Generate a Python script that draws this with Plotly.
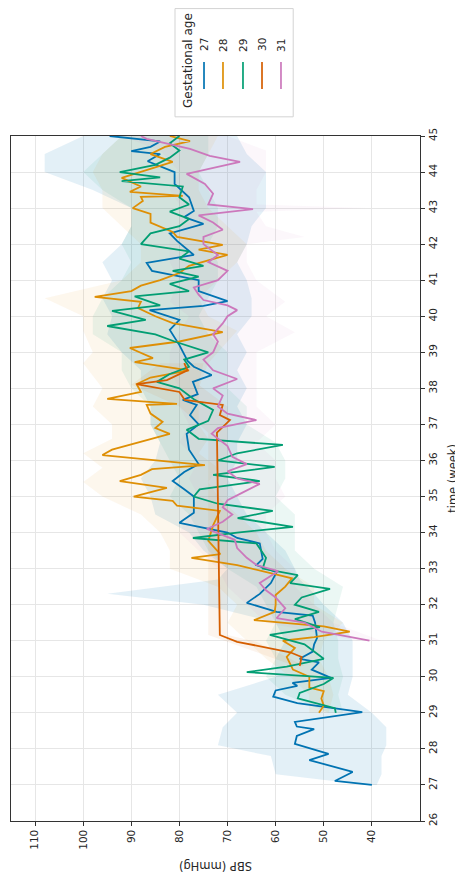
import plotly.graph_objects as go

# ---------------- data ----------------
groups = ["27", "28", "29", "30", "31"]
colors = ["#0173B2", "#DE8F05", "#029E73", "#D55E00", "#CC78BC"]

w27 = [27.0, 27.11, 27.36, 27.69, 27.86, 28.14, 28.36, 28.55, 28.62, 28.75, 29.02, 29.27, 29.45, 29.62, 29.75,
       29.83, 29.97, 30.2, 30.4, 30.5, 30.7, 30.9, 31.07, 31.5, 31.7, 31.8, 32.05, 32.3, 32.6, 32.9,
       33.1, 33.27, 33.7, 33.85, 34.0, 34.27, 34.55, 35.0, 35.2, 35.43, 35.68, 35.9, 36.3, 36.74, 37.0,
       37.26, 37.54, 37.68, 37.84, 38.18, 38.37, 38.6, 38.76, 39.2, 39.62, 39.9, 40.17, 40.29, 40.42, 40.7,
       41.0, 41.26, 41.48, 41.7, 42.09, 42.3, 42.56, 42.75, 42.92, 43.3, 43.67, 44.0, 44.3, 44.5, 44.58,
       44.7, 44.85, 45.0]
sbp27 = [40, 47.7, 44, 53, 49, 56, 55.6, 52, 55.6, 56, 42, 55.5, 60.5, 60, 55.5,
         56.5, 48.5, 52.5, 51, 55, 52.3, 52, 51.4, 51.8, 52.3, 59.8, 66, 63.3, 61, 59.8,
         64, 62.7, 63.3, 68, 70, 80, 77, 77, 79, 81.4, 79, 76, 78, 78.5, 76,
         77.8, 76.4, 79.3, 76.2, 77.2, 73.3, 77, 78.3, 80, 82, 80, 86.2, 75, 70, 76,
         76, 85.7, 86.8, 77, 80.5, 82, 75, 79, 77, 78, 81, 81, 86.6, 84, 90,
         86, 84, 94.5]

w28 = [29.0, 29.2, 29.4, 29.6, 29.7, 30.0, 30.2, 30.55, 30.8, 31.0, 31.1, 31.25, 31.4, 31.57, 31.8,
       32.0, 32.27, 32.5, 32.73, 32.9, 33.1, 33.3, 33.4, 33.77, 34.2, 34.6, 34.75, 34.88, 35.0, 35.24,
       35.43, 35.6, 35.76, 35.87, 36.15, 36.3, 36.74, 36.9, 37.07, 37.3, 37.54, 37.57, 37.71, 37.9, 38.12,
       38.3, 38.5, 38.73, 38.84, 39.12, 39.3, 39.56, 39.81, 40.0, 40.23, 40.4, 40.54, 40.7, 40.85, 41.0,
       41.2, 41.4, 41.55, 41.7, 41.85, 41.98, 42.2, 42.34, 42.6, 42.84, 43.0, 43.2, 43.31, 43.34, 43.45,
       43.6, 43.84, 44.0, 44.28, 44.5, 44.7, 44.86, 45.0]
sbp28 = [51, 50, 50.5, 50, 53, 53, 56.4, 57.7, 56, 58.5, 52, 44.6, 50, 64.5, 60.2,
         60, 60, 58, 56.6, 62, 68, 77.5, 71.5, 74, 73, 71.6, 80.5, 81.4, 89.5, 82.6,
         92.4, 88, 85.7, 74.7, 96, 94, 82, 85, 83.5, 86, 86.8, 80.5, 95, 88, 88.9,
         86, 78, 89.3, 85.5, 90.3, 80, 71, 81.4, 85, 88.6, 88, 97.6, 90, 88, 84,
         80, 78, 74, 70, 76, 71, 80.5, 81.4, 86, 86, 89.7, 87.6, 88, 79.3, 90.3,
         88, 92, 88, 81.4, 86, 83, 77.8, 82]

w29 = [29.0, 29.13, 29.4, 29.55, 29.8, 29.97, 30.13, 30.28, 30.5, 30.7, 30.9, 31.16, 31.38, 31.6, 31.8,
       32.0, 32.2, 32.44, 32.6, 32.82, 33.0, 33.3, 33.7, 33.85, 34.0, 34.16, 34.4, 34.6, 34.8, 35.0,
       35.2, 35.43, 35.6, 35.82, 36.0, 36.2, 36.43, 36.6, 36.85, 37.1, 37.4, 37.7, 38.0, 38.18, 38.4,
       38.6, 38.8, 39.0, 39.3, 39.5, 39.73, 39.9, 40.15, 40.3, 40.55, 40.7, 40.9, 41.1, 41.26, 41.4,
       41.6, 41.8, 42.0, 42.3, 42.5, 42.7, 42.9, 43.1, 43.3, 43.6, 43.75, 43.85, 44.0, 44.2, 44.4,
       44.6, 44.8, 45.0]
sbp29 = [47.5, 47.7, 55.4, 55, 50, 48, 66, 57.7, 50, 52, 54, 61.2, 50.8, 56, 51,
         56, 54.6, 48.7, 57, 55.4, 62.7, 62, 64, 77.2, 68, 56.4, 67.9, 60.6, 72, 77,
         75.8, 63.3, 73, 60.2, 72, 68, 58.5, 76, 78.5, 74, 73, 77, 80, 84.7, 82,
         78, 79, 74, 81, 85, 95, 87, 94, 84, 89.3, 78, 82, 76, 81.4, 75,
         80, 78, 88, 86, 80, 78, 82, 78, 80, 79.3, 92, 84, 92.4, 85, 82,
         80, 82, 80]

w30 = [30.3, 30.55, 30.68, 30.97, 31.16, 36.77, 37.12, 37.26, 37.54, 37.68, 37.9, 38.12, 38.23, 38.5, 38.7]
sbp30 = [55, 54.6, 57, 68, 71.6, 72.2, 69.5, 71.6, 71, 78.9, 80, 88.9, 82.6, 78.3, 79]

w31 = [31.0, 31.25, 31.5, 31.63, 31.9, 32.2, 32.4, 32.6, 32.93, 33.1, 33.3, 33.57, 33.8, 34.1, 34.3,
       34.5, 34.7, 34.9, 35.1, 35.35, 35.5, 35.7, 35.9, 36.1, 36.4, 36.74, 36.9, 37.12, 37.3, 37.5,
       37.8, 38.0, 38.26, 38.5, 38.8, 39.0, 39.3, 39.5, 39.8, 40.0, 40.17, 40.3, 40.45, 40.6, 40.8,
       41.0, 41.26, 41.5, 41.7, 42.0, 42.2, 42.4, 42.6, 42.8, 42.97, 43.1, 43.4, 43.67, 43.95, 44.28,
       44.45, 44.64, 44.92, 45.0]
sbp31 = [40.5, 50.4, 54, 59.8, 58, 60, 62, 63.3, 59.5, 64, 66, 68, 68.5, 74.3, 71,
         69, 71, 70, 67, 63.3, 68, 70, 66, 69, 70, 73.3, 72, 64, 70, 72,
         71, 73, 68, 73, 75, 73, 72, 73, 71, 70, 68, 70, 75, 76, 77,
         72, 70, 74, 72, 75, 75, 71, 73, 76, 64.7, 74, 73, 74.7, 78.5, 67.4,
         73.7, 77.8, 86.8, 88]

# confidence bands (week, lower, upper)
bw27 = [27.0, 27.3, 27.8, 28.1, 28.6, 29.0, 29.5, 30.0, 30.5, 31.0, 31.5, 32.0, 32.3, 32.7, 33.0,
        33.5, 34.0, 34.5, 35.0, 35.5, 36.0, 36.5, 37.0, 37.5, 38.0, 38.5, 39.0, 39.5, 40.0, 40.5,
        41.0, 41.5, 42.0, 42.5, 43.0, 43.5, 44.0, 44.5, 45.0]
blo27 = [39, 38, 38, 37, 37, 40, 45, 44, 44, 44, 46, 50, 52, 55, 56,
         58, 62, 66, 68, 70, 68, 68, 66, 68, 66, 68, 66, 68, 65, 65,
         66, 68, 66, 65, 62, 62, 62, 66, 68]
bhi27 = [41, 60, 61, 72, 71, 68, 72, 60, 60, 58, 60, 75, 95, 72, 70,
         75, 78, 85, 86, 88, 85, 84, 86, 86, 88, 88, 92, 95, 94, 96,
         94, 96, 92, 90, 90, 98, 108, 108, 100]

bw28 = [29.0, 29.5, 30.0, 30.5, 31.0, 31.5, 32.0, 32.5, 33.0, 33.5, 34.0, 34.5, 35.0, 35.4, 35.8,
        36.2, 36.6, 37.0, 37.5, 38.0, 38.7, 39.0, 39.6, 40.0, 40.5, 41.0, 41.5, 42.0, 42.5, 43.0,
        43.5, 44.0, 44.5, 45.0]
blo28 = [49, 48, 49, 51, 50, 46, 52, 52, 58, 62, 64, 68, 72, 74, 72,
         76, 74, 76, 76, 76, 74, 72, 68, 74, 76, 72, 68, 66, 70, 74,
         76, 76, 74, 72]
bhi28 = [53, 53, 57, 62, 66, 70, 68, 72, 82, 82, 84, 88, 96, 100, 96,
         100, 94, 94, 98, 96, 100, 98, 100, 100, 108, 92, 88, 88, 92, 96,
         96, 98, 96, 92]

bw29 = [29.0, 29.5, 30.0, 30.5, 31.0, 31.5, 32.0, 32.5, 33.0, 33.5, 34.0, 34.5, 35.0, 35.5, 36.0,
        36.5, 37.0, 37.5, 38.0, 38.5, 39.0, 39.5, 40.0, 40.5, 41.0, 41.5, 42.0, 42.5, 43.0, 43.5,
        44.0, 44.5, 45.0]
blo29 = [46, 47, 46, 47, 47, 48, 47, 46, 52, 56, 56, 56, 60, 58, 58,
         60, 66, 66, 70, 70, 70, 74, 76, 74, 72, 72, 74, 72, 72, 74,
         76, 74, 74]
bhi29 = [49, 58, 62, 60, 62, 60, 62, 64, 70, 74, 76, 78, 82, 80, 82,
         84, 86, 86, 90, 92, 92, 98, 98, 96, 92, 90, 92, 90, 90, 96,
         100, 96, 92]

bw30 = [30.3, 30.97, 31.16, 36.77, 37.5, 38.1, 38.7]
blo30 = [54, 64, 70, 70, 70, 76, 75]
bhi30 = [56, 70, 74, 74, 80, 90, 84]

bw31 = [31.0, 31.5, 32.0, 32.5, 33.0, 33.5, 34.0, 34.5, 35.0, 35.5, 36.0, 36.5, 37.0, 37.5, 38.0,
        38.5, 39.0, 39.56, 40.0, 40.4, 41.0, 41.5, 42.0, 42.2, 42.5, 42.9, 43.0, 43.1, 43.5, 44.0,
        44.3, 44.6, 45.0]
blo31 = [38, 48, 52, 56, 56, 60, 62, 62, 58, 60, 60, 64, 60, 64, 64,
         64, 64, 56, 62, 58, 64, 66, 66, 54, 62, 64, 41, 64, 64, 62,
         62, 62, 70]
bhi31 = [43, 62, 66, 70, 72, 76, 80, 78, 76, 78, 76, 80, 78, 80, 80,
         82, 82, 80, 78, 82, 80, 82, 82, 82, 80, 80, 80, 80, 82, 80,
         82, 84, 92]

sbp_ticks = [40, 50, 60, 70, 80, 90, 100, 110]
week_ticks = list(range(26, 46))

series = [(w27, sbp27), (w28, sbp28), (w29, sbp29), (w30, sbp30), (w31, sbp31)]
bands = [(bw27, blo27, bhi27), (bw28, blo28, bhi28), (bw29, blo29, bhi29),
         (bw30, blo30, bhi30), (bw31, blo31, bhi31)]
band_alpha = [0.11, 0.07, 0.08, 0.07, 0.06]


def rgba(hexc, a):
    h = hexc.lstrip("#")
    r, g, b = int(h[0:2], 16), int(h[2:4], 16), int(h[4:6], 16)
    return f"rgba({r},{g},{b},{a})"


fig = go.Figure()

# bands first (drawn beneath all lines)
for (bw, lo, hi), col, a in zip(bands, colors, band_alpha):
    fig.add_trace(go.Scatter(
        x=list(hi) + list(lo)[::-1],
        y=list(bw) + list(bw)[::-1],
        fill="toself", fillcolor=rgba(col, a),
        line=dict(width=0), mode="lines", hoverinfo="skip", showlegend=False))

for (w, s), col, name in zip(series, colors, groups):
    fig.add_trace(go.Scatter(
        x=s, y=w, mode="lines", name=name,
        line=dict(color=col, width=1.8), showlegend=False))

TXT = "#262626"
FONT = "DejaVu Sans"

# the page body has an 8px margin, so the figure is sized/offset to compensate
fig.update_layout(
    width=455, height=872,
    margin=dict(l=3, r=43, t=128, b=59),
    paper_bgcolor="white", plot_bgcolor="white",
    font=dict(family=FONT, color=TXT),
    xaxis=dict(range=[115, 30], tickvals=sbp_ticks, tickangle=-90,
               tickfont=dict(size=10.5, family=FONT, color=TXT),
               showgrid=True, gridcolor="#e6e6e6", gridwidth=1, zeroline=False,
               showline=True, linecolor="#333333", linewidth=1, mirror=True,
               ticks="outside", ticklen=3.5, tickcolor="#333333"),
    yaxis=dict(range=[26, 45], tickvals=week_ticks, side="right", tickangle=-90,
               tickfont=dict(size=10.5, family=FONT, color=TXT),
               showgrid=True, gridcolor="#e6e6e6", gridwidth=1, zeroline=False,
               showline=True, linecolor="#333333", linewidth=1, mirror=True,
               ticks="outside", ticklen=3.5, tickcolor="#333333"),
)

# axis titles / legend title (rotated like the reference)
annots = [
    dict(text="time (week)", x=1.0790, y=0.5, xref="paper", yref="paper",
         textangle=-90, showarrow=False, xanchor="center", yanchor="middle",
         font=dict(size=11.5, family=FONT, color=TXT)),
    dict(text="SBP (mmHg)", x=0.5, y=-0.0657, xref="paper", yref="paper",
         textangle=180, showarrow=False, xanchor="center", yanchor="middle",
         font=dict(size=11.5, family=FONT, color=TXT)),
    dict(text="Gestational age", x=0.4328, y=1.1095, xref="paper", yref="paper",
         textangle=-90, showarrow=False, xanchor="center", yanchor="middle",
         font=dict(size=12, family=FONT, color=TXT)),
]

# legend built manually (rotated)
shapes = [dict(type="rect", xref="paper", yref="paper", x0=0.401, x1=0.690,
               y0=1.028, y1=1.186, line=dict(color="#d3d3d3", width=1),
               fillcolor="white", layer="above")]
leg_x = [0.4719, 0.5183, 0.5672, 0.6137, 0.6601]
for gx, col, name in zip(leg_x, colors, groups):
    annots.append(dict(text=name, x=gx, y=1.1328, xref="paper", yref="paper",
                       textangle=-90, showarrow=False, xanchor="center", yanchor="middle",
                       font=dict(size=10.5, family=FONT, color=TXT)))
    shapes.append(dict(type="line", xref="paper", yref="paper", x0=gx, x1=gx,
                       y0=1.0686, y1=1.108, line=dict(color=col, width=1.7)))

fig.update_layout(annotations=annots, shapes=shapes)

fig.write_html("out.html")
